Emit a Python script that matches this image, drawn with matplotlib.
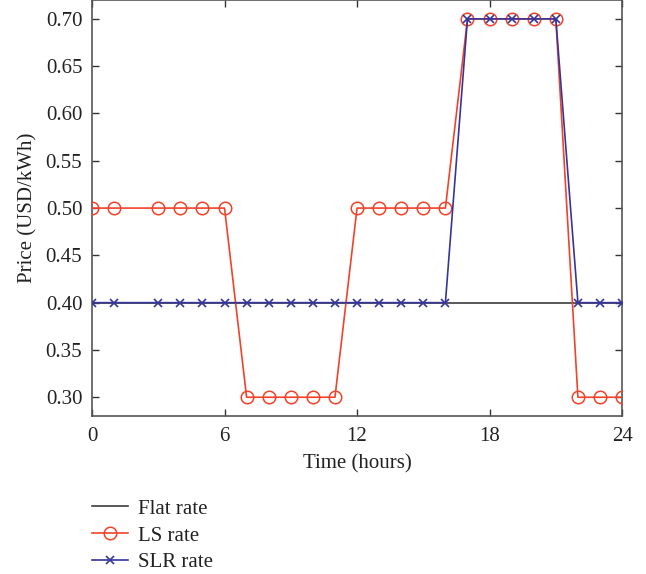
import matplotlib
matplotlib.use("Agg")
import matplotlib.pyplot as plt
from matplotlib.ticker import FixedLocator

plt.rcParams['font.family'] = ['Liberation Serif', 'DejaVu Serif']

hours = [0, 1, 3, 4, 5, 6, 7, 8, 9, 10, 11, 12, 13, 14, 15, 16, 17, 18, 19, 20, 21, 22, 23, 24]
ls_rate = [0.50, 0.50, 0.50, 0.50, 0.50, 0.50,
           0.30, 0.30, 0.30, 0.30, 0.30,
           0.50, 0.50, 0.50, 0.50, 0.50,
           0.70, 0.70, 0.70, 0.70, 0.70,
           0.30, 0.30, 0.30]
slr_rate = [0.40, 0.40, 0.40, 0.40, 0.40, 0.40, 0.40, 0.40, 0.40, 0.40, 0.40,
            0.40, 0.40, 0.40, 0.40, 0.40,
            0.70, 0.70, 0.70, 0.70, 0.70,
            0.40, 0.40, 0.40]
flat_x = [0, 24]
flat_rate = [0.40, 0.40]
xticks = [0, 6, 12, 18, 24]
yticks = [0.30, 0.35, 0.40, 0.45, 0.50, 0.55, 0.60, 0.65, 0.70]

fig = plt.figure(figsize=(6.46, 5.74), dpi=100)
ax = fig.add_axes([0.1424, 0.275, 0.8206, 0.725])

ax.plot(flat_x, flat_rate, color='#3c3c3c', lw=1.2, label='Flat rate', zorder=2)
ax.plot(hours, ls_rate, color='#f0432a', lw=1.2, marker='o', ms=9, mfc='none',
        mew=1.1, label='LS rate', zorder=3)
ax.plot(hours, slr_rate, color='#35359a', lw=1.2, marker='x', ms=6, mew=1.2,
        label='SLR rate', zorder=4)

ax.set_xlim(0, 24)
ax.set_ylim(0.28, 0.72)
ax.xaxis.set_major_locator(FixedLocator(xticks))
ax.yaxis.set_major_locator(FixedLocator(yticks))
ax.set_yticklabels([f"{v:.2f}" for v in yticks])
ax.tick_params(direction='in', top=True, right=True, labelsize=15, length=5,
               width=1, colors='#333333', labelcolor='#222222', pad=8)
ax.tick_params(axis='y', pad=7)
for s in ax.spines.values():
    s.set_color('#555555')
    s.set_linewidth(1.2)

ax.set_xlabel('Time (hours)', fontsize=15, color='#222222', labelpad=6)
ax.set_ylabel('Price (USD/kWh)', fontsize=15, color='#222222', labelpad=6)

fig.legend(loc='upper left', bbox_to_anchor=(0.130, 0.145), frameon=False,
           fontsize=15, handlelength=1.7, handletextpad=0.5, labelspacing=0.35,
           borderaxespad=0, labelcolor='#222222')

fig.savefig('out.png', dpi=100)
